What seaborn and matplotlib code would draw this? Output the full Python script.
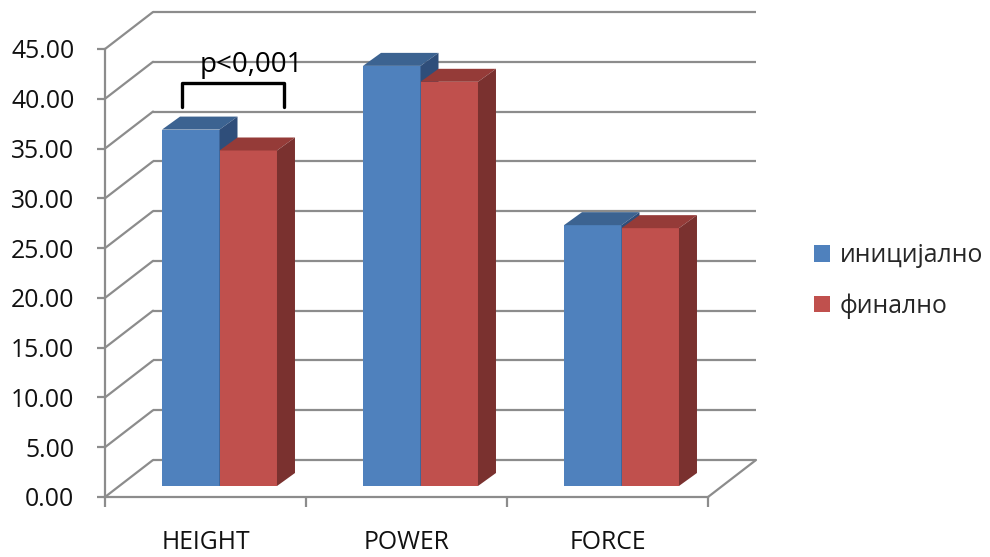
import matplotlib
matplotlib.use("Agg")
import matplotlib.pyplot as plt
import pandas as pd
import seaborn as sns
from matplotlib.patches import Polygon, ConnectionPatch

# ---- data ----
categories = ["HEIGHT", "POWER", "FORCE"]
series_names = ["иницијално", "финално"]
initial_values = [35.8, 42.2, 26.2]
final_values = [33.7, 40.6, 25.9]
y_ticks = [0, 5, 10, 15, 20, 25, 30, 35, 40, 45]
y_tick_labels = [f"{v:.2f}" for v in y_ticks]
annotation_text = "p<0,001"

df = pd.DataFrame({
    "category": categories * 2,
    "series": [series_names[0]] * 3 + [series_names[1]] * 3,
    "value": initial_values + final_values,
})

# ---- style ----
sns.set_style("white")
plt.rcParams["font.family"] = ["Open Sans", "DejaVu Sans"]

front_colors = ["#4F81BD", "#C0504D"]
top_colors = ["#3C6391", "#953B38"]
side_colors = ["#2F4E7A", "#7A312F"]
grid_color = "#8C8C8C"
FS = 17.8

W, H = 990, 557
fig = plt.figure(figsize=(W / 100, H / 100), dpi=100)

PW, PH = 603, 448  # plot plane size in pixels


def plane_axes(left_px, base_px):
    ax = fig.add_axes([left_px / W, (H - base_px) / H, PW / W, PH / H])
    ax.set_xlim(-0.5, 2.5)
    ax.set_ylim(0, 45)
    ax.patch.set_alpha(0)
    return ax


# back wall (gridlines)
back = plane_axes(153, 460)
back.hlines(y_ticks, -0.5, 2.5, color=grid_color, lw=1.6, clip_on=False, zorder=1)
back.axis("off")

# front frame (value axis and category axis)
front = plane_axes(105, 497)
for side in ["top", "right"]:
    front.spines[side].set_visible(False)
for side in ["left", "bottom"]:
    front.spines[side].set_color(grid_color)
    front.spines[side].set_linewidth(1.6)
front.set_yticks(y_ticks)
front.set_yticklabels(y_tick_labels)
front.tick_params(axis="y", direction="out", length=6, width=1.6, color=grid_color,
                  labelsize=FS, labelcolor="#111111", pad=16, left=True)
front.set_xticks([-0.5, 0.5, 1.5, 2.5])
front.set_xticklabels([])
front.set_xticks([0, 1, 2], minor=True)
front.set_xticklabels(categories, minor=True)
front.tick_params(axis="x", which="major", direction="out", length=7, width=1.6,
                  color=grid_color, bottom=True)
front.tick_params(axis="x", which="minor", length=0, labelsize=FS,
                  labelcolor="#111111", pad=24)

# side wall and floor edges joining the front frame to the back wall
for y in y_ticks:
    cp = ConnectionPatch((-0.5, y), (-0.5, y), coordsA=front.transData,
                         coordsB=back.transData, color=grid_color, lw=1.6)
    fig.add_artist(cp)
cp = ConnectionPatch((2.5, 0), (2.5, 0), coordsA=front.transData,
                     coordsB=back.transData, color=grid_color, lw=1.6)
fig.add_artist(cp)

# bars in the middle plane
ax = plane_axes(119, 486)
sns.barplot(data=df, x="category", y="value", hue="series", order=categories,
            hue_order=series_names, palette=front_colors, saturation=1,
            width=0.572, linewidth=0, ax=ax)
ax.set_xlim(-0.5, 2.5)
ax.set_ylim(0, 45)

ddx = 18 / (PW / 3)
ddy = 13 / (PH / 45)
for i, container in enumerate(ax.containers):
    for bar in container:
        bar.set_zorder(2 + i)
        x0, w, h = bar.get_x(), bar.get_width(), bar.get_height()
        x1 = x0 + w
        top = Polygon([(x0, h), (x1, h), (x1 + ddx, h + ddy), (x0 + ddx, h + ddy)],
                      closed=True, facecolor=top_colors[i], edgecolor="none",
                      zorder=2.5 + i, clip_on=False)
        side = Polygon([(x1, 0), (x1 + ddx, ddy), (x1 + ddx, h + ddy), (x1, h)],
                       closed=True, facecolor=side_colors[i], edgecolor="none",
                       zorder=2.5 + i, clip_on=False)
        ax.add_patch(top)
        ax.add_patch(side)

# significance bracket over HEIGHT
ax.plot([-0.187, -0.187, 0.321, 0.321], [38.1, 40.5, 40.5, 38.1], color="black",
        lw=2.4, solid_joinstyle="round", solid_capstyle="round", clip_on=False, zorder=6)
ax.text(0.157, 41.6, annotation_text, ha="center", va="baseline", fontsize=20,
        color="black", zorder=6)

ax.set_xlabel("")
ax.set_ylabel("")
for s in ax.spines.values():
    s.set_visible(False)
ax.set_xticks([])
ax.set_yticks([])

sns.move_legend(ax, "center left", bbox_to_anchor=(814 / W, 1 - 281 / H),
                bbox_transform=fig.transFigure, frameon=False, title=None,
                fontsize=FS, handlelength=0.65, handleheight=0.65,
                handletextpad=0.4, labelspacing=1.0, borderpad=0, borderaxespad=0)

fig.savefig("out.png", dpi=100, facecolor="white")
